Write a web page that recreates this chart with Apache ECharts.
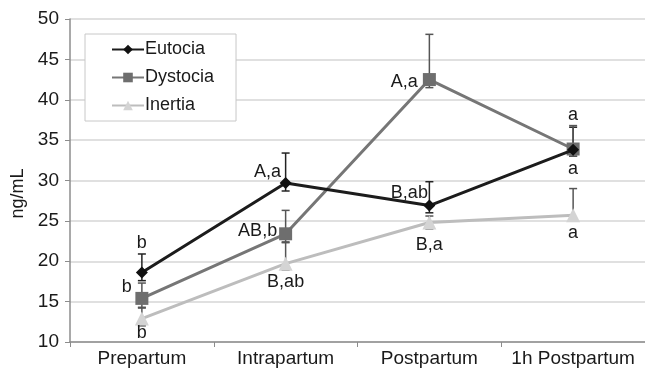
<!DOCTYPE html>
<html><head><meta charset="utf-8">
<script src="https://cdn.jsdelivr.net/npm/echarts@6/dist/echarts.min.js"></script>
<style>html,body{margin:0;padding:0;background:#fff}#c{width:645px;height:369px}</style>
</head><body><div id="c"></div>
<script>
var categories = ['Prepartum', 'Intrapartum', 'Postpartum', '1h Postpartum'];
var seriesNames = ['Eutocia', 'Dystocia', 'Inertia'];
var eutocia = [18.6, 29.7, 26.9, 33.8];
var eutociaHigh = [20.9, 33.4, 29.85, 36.6];
var eutociaLow = [17.6, 28.7, 26.0, 33.0];
var dystocia = [15.4, 23.4, 42.5, 33.9];
var dystociaHigh = [17.3, 26.3, 48.1, 36.8];
var dystociaLow = [14.3, 22.3, 41.5, 33.0];
var inertia = [12.9, 19.7, 24.8, 25.7];
var inertiaHigh = [14.2, 22.4, 25.6, 29.0];
var inertiaLow = [12.0, 18.9, 24.0, 25.0];
var eutociaLabels = ['b', 'A,a', 'B,ab', 'a'];
var dystociaLabels = ['b', 'AB,b', 'A,a', 'a'];
var inertiaLabels = ['b', 'B,ab', 'B,a', 'a'];
var yTicks = [10, 15, 20, 25, 30, 35, 40, 45, 50];

// label offsets (style only)
var labelOffsets = [
  [[0,-30],[-18,-11],[-20,-13],[0,19]],
  [[-15,-11],[-28,-3],[-25,2],[0,-34]],
  [[0,14],[0,18],[0,23],[0,18]]
];
var FONT = 'Liberation Sans, Arial, Helvetica, sans-serif';
var colors = ['#1c1c1c', '#767676', '#bdbdbd'];
var markerColors = ['#111', '#6e6e6e', '#d4d4d4'];
var barColors = ['#222', '#555', '#555'];
var symbols = ['diamond', 'rect', 'triangle'];
var symbolSizes = [12, 13, 14];

var vals = [eutocia, dystocia, inertia];
var highs = [eutociaHigh, dystociaHigh, inertiaHigh];
var lows = [eutociaLow, dystociaLow, inertiaLow];
var labs = [eutociaLabels, dystociaLabels, inertiaLabels];

var series = [];
for (var s = 0; s < 3; s++) {
  (function(s){
    var ebData = categories.map(function(c, i){ return [i, lows[s][i], highs[s][i]]; });
    series.push({
      type: 'custom', name: seriesNames[s] + ' err', z: 3,
      data: ebData, silent: true,
      renderItem: function(params, api){
        var x = api.value(0);
        var lo = api.coord([x, api.value(1)]);
        var hi = api.coord([x, api.value(2)]);
        var cw = 4;
        var st = {stroke: barColors[s], lineWidth: 1.5};
        return {type: 'group', children: [
          {type:'line', shape:{x1:lo[0],y1:lo[1],x2:hi[0],y2:hi[1]}, style: st},
          {type:'line', shape:{x1:hi[0]-cw,y1:hi[1],x2:hi[0]+cw,y2:hi[1]}, style: st},
          {type:'line', shape:{x1:lo[0]-cw,y1:lo[1],x2:lo[0]+cw,y2:lo[1]}, style: st}
        ]};
      }
    });
    series.push({
      type: 'line', name: seriesNames[s], z: 5 - s + 4,
      symbol: symbols[s], symbolSize: symbolSizes[s],
      lineStyle: {color: colors[s], width: 3},
      itemStyle: {color: markerColors[s]},
      data: vals[s].map(function(v, i){
        return {value: v, label: {show: true, formatter: labs[s][i], position: 'inside', offset: labelOffsets[s][i], color: '#1a1a1a', fontSize: 18, fontFamily: FONT}};
      })
    });
  })(s);
}

var chart = echarts.init(document.getElementById('c'));
chart.setOption({
  animation: false,
  backgroundColor: '#fff',
  grid: {left: 70, right: 0, top: 19, bottom: 27},
  legend: {
    data: seriesNames, orient: 'vertical', left: 85, top: 34,
    backgroundColor: '#fff', borderColor: '#c8c8c8', borderWidth: 1, borderRadius: 0,
    padding: [6, 22, 6, 26], itemGap: 9, itemWidth: 32, itemHeight: 12,
    textStyle: {fontSize: 18, lineHeight: 19, color: '#1a1a1a', fontFamily: FONT, padding: [0,0,0,-4]}
  },
  xAxis: {
    type: 'category', data: categories, boundaryGap: true,
    axisLine: {lineStyle: {color: '#8c8c8c', width: 1.5}},
    axisTick: {show: true, length: 5, inside: false, interval: 0, lineStyle: {color: '#8c8c8c'}},
    axisLabel: {fontSize: 19, color: '#1a1a1a', margin: 7, interval: 0, hideOverlap: false, fontFamily: FONT}
  },
  yAxis: {
    type: 'value', min: yTicks[0], max: yTicks[yTicks.length-1], interval: 5,
    name: 'ng/mL', nameLocation: 'middle', nameGap: 42, nameRotate: 90,
    nameTextStyle: {fontSize: 18, color: '#1a1a1a', fontFamily: FONT, padding: [0, 26, 0, 0]},
    axisLine: {show: true, lineStyle: {color: '#8c8c8c', width: 1.5}},
    axisTick: {show: true, length: 5, lineStyle: {color: '#8c8c8c'}},
    axisLabel: {fontSize: 19, color: '#1a1a1a', margin: 11, fontFamily: FONT},
    splitLine: {lineStyle: {color: '#d6d6d6', width: 1.5}}
  },
  series: series
});
</script></body></html>
